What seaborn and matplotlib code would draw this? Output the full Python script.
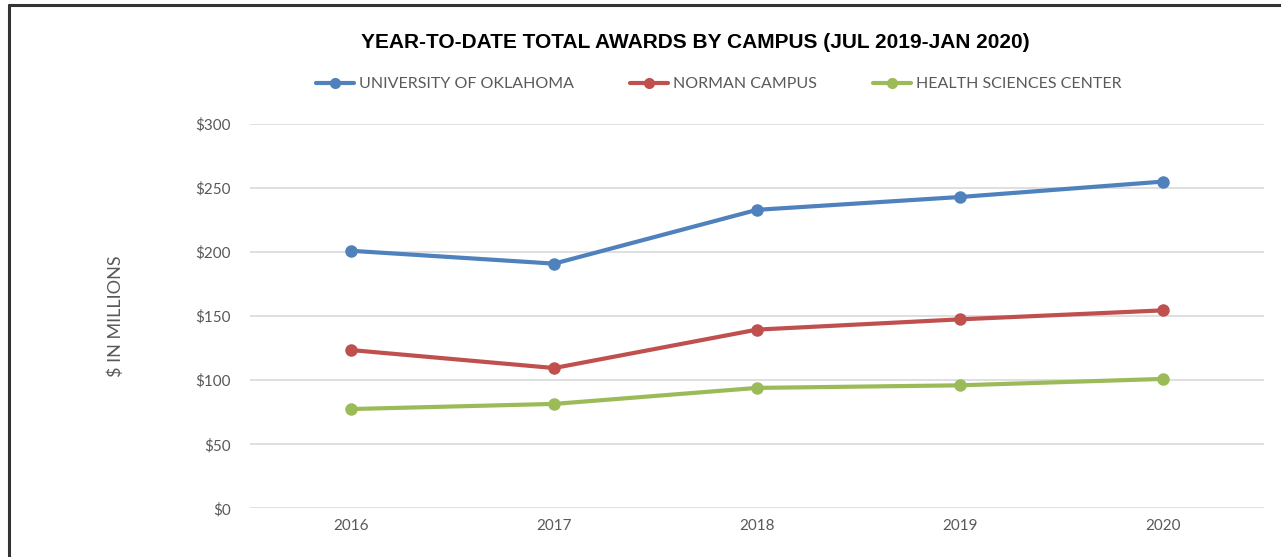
import pandas as pd
import matplotlib.pyplot as plt
import seaborn as sns
from matplotlib.lines import Line2D

# data ($ millions)
years = ["2016", "2017", "2018", "2019", "2020"]
ou = [201, 191, 233, 243, 255]
norman = [123.5, 109.5, 139.5, 147.5, 154.5]
hsc = [77.5, 81.5, 94, 96, 101]

series_names = ["UNIVERSITY OF OKLAHOMA", "NORMAN CAMPUS", "HEALTH SCIENCES CENTER"]
colors = ["#4F81BD", "#C0504D", "#9BBB59"]
yticks = [0, 50, 100, 150, 200, 250, 300]

df = pd.DataFrame({
    "year": years * 3,
    "value": ou + norman + hsc,
    "series": [s for s in series_names for _ in years],
})
df["pos"] = df.groupby("series").cumcount()

sns.set_style("white")
plt.rcParams["font.family"] = ["Lato", "DejaVu Sans"]
gray = "#595959"

fig = plt.figure(figsize=(12.81, 5.57), dpi=100)
ax = fig.add_axes([0.1952, 0.0874, 0.7915, 0.69])

sns.lineplot(data=df, x="pos", y="value", hue="series", hue_order=series_names,
             palette=colors, marker="o", markersize=9, markeredgewidth=0,
             linewidth=3, legend=False, ax=ax, zorder=3)

ax.set_xlim(-0.5, len(years) - 0.5)
ax.set_ylim(0, 300)
ax.set_xticks(range(len(years)))
ax.set_xticklabels(years)
ax.set_yticks(yticks)
ax.set_yticklabels([f"${v}" for v in yticks])
ax.tick_params(axis="both", length=0, labelsize=11, labelcolor=gray)
ax.tick_params(axis="y", pad=14)
ax.tick_params(axis="x", pad=8)
ax.grid(axis="y", color="#D9D9D9", linewidth=1.2)
ax.set_axisbelow(True)
for s in ax.spines.values():
    s.set_visible(False)
ax.set_xlabel("")
ax.set_ylabel("$ IN MILLIONS", fontsize=13, color=gray, labelpad=51)

fig.text(0.543, 0.923, "YEAR-TO-DATE TOTAL AWARDS BY CAMPUS (JUL 2019-JAN 2020)",
         ha="center", va="center", fontsize=15, fontweight="bold",
         family=["Liberation Sans", "DejaVu Sans"], color="black")

handles = [Line2D([], [], color=c, linewidth=3, marker="o", markersize=8,
                  markeredgewidth=0) for c in colors]
fig.legend(handles, series_names, loc="center", bbox_to_anchor=(0.561, 0.849),
           ncol=3, frameon=False, fontsize=11.5, labelcolor=gray,
           handlelength=2.4, handletextpad=0.3, columnspacing=3.5)

# frame lines at top and left
fig.add_artist(Line2D([9 / 1281, 1], [1 - 4.5 / 557, 1 - 4.5 / 557], color="#333333", linewidth=2.2))
fig.add_artist(Line2D([9 / 1281, 9 / 1281], [0, 1 - 4.5 / 557], color="#333333", linewidth=2.2))

fig.savefig("out.png", dpi=100)
